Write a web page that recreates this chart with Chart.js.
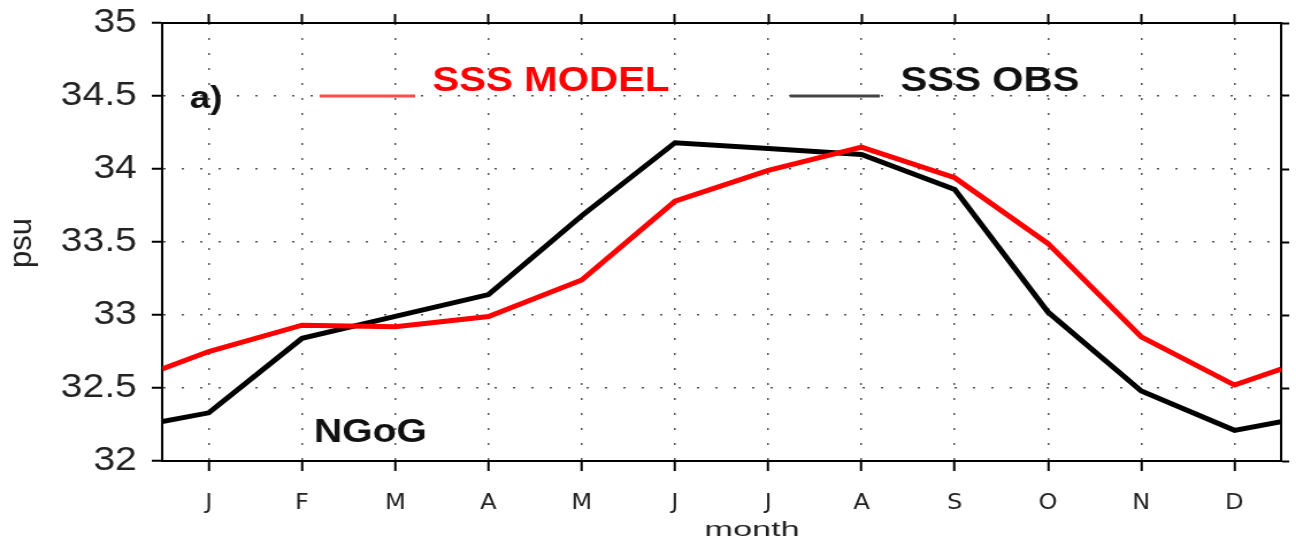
<!DOCTYPE html>
<html>
<head>
<meta charset="utf-8">
<script src="https://cdn.jsdelivr.net/npm/chart.js@4/dist/chart.umd.min.js"></script>
<style>
  html, body { margin: 0; padding: 0; background: #fff; overflow: hidden; }
  /* the source figure is stretched sideways, so draw narrow and scale */
  #wrap { width: 1127px; height: 542px; transform: scaleX(1.15); transform-origin: 0 0; }
</style>
</head>
<body>
<div id="wrap"><canvas id="myChart"></canvas></div>
<script>
// month letters on the x axis
const months = ['J', 'F', 'M', 'A', 'M', 'J', 'J', 'A', 'S', 'O', 'N', 'D'];
// monthly SSS (psu)
const sssModel = [32.75, 32.93, 32.92, 32.99, 33.24, 33.78, 33.99, 34.15, 33.94, 33.49, 32.85, 32.52];
const sssObs = [32.33, 32.84, 32.99, 33.14, 33.68, 34.18, 34.14, 34.10, 33.86, 33.02, 32.48, 32.21];
// value where each curve meets the left/right frame (half a month out)
const modelEdge = 32.63;
const obsEdge = 32.27;

function series(vals, edge) {
    let pts = [{x: -0.5, y: edge}];
    for (let i = 0; i < vals.length; i++) pts.push({x: i, y: vals[i]});
    pts.push({x: 11.5, y: edge});
    return pts;
}

const monthTicks = (scale) => { scale.ticks = months.map((m, i) => ({value: i})); };

const textPlugin = {
    id: 'texts',
    afterDraw(chart) {
        const ctx = chart.ctx;
        ctx.save();
        ctx.textBaseline = 'middle';
        // panel label and region name
        ctx.fillStyle = '#111';
        ctx.font = 'bold 32px "Liberation Sans", Arial, sans-serif';
        ctx.fillText('a)', 165, 99);
        ctx.font = 'bold 34px "Liberation Sans", Arial, sans-serif';
        ctx.fillText('NGoG', 273, 433);
        // legend
        ctx.lineWidth = 3;
        ctx.strokeStyle = '#ff4a4a';
        ctx.beginPath(); ctx.moveTo(278, 96); ctx.lineTo(361, 96); ctx.stroke();
        ctx.strokeStyle = '#444';
        ctx.beginPath(); ctx.moveTo(687, 96); ctx.lineTo(765, 96); ctx.stroke();
        ctx.font = 'bold 35px "Liberation Sans", Arial, sans-serif';
        ctx.fillStyle = '#ff0000';
        ctx.fillText('SSS MODEL', 376, 81);
        ctx.fillStyle = '#111';
        ctx.fillText('SSS OBS', 783, 81);
        ctx.restore();

        // axis titles
        ctx.save();
        ctx.fillStyle = '#222';
        ctx.textAlign = 'center';
        ctx.textBaseline = 'alphabetic';
        ctx.translate(654, 536);
        ctx.scale(1.42, 1);
        ctx.font = '21px "Liberation Sans", Arial, sans-serif';
        ctx.fillText('month', 0, 0);
        ctx.restore();

        ctx.save();
        ctx.fillStyle = '#222';
        ctx.textAlign = 'center';
        ctx.textBaseline = 'middle';
        ctx.translate(20, 243);
        ctx.scale(1 / 1.15, 1);
        ctx.rotate(-Math.PI / 2);
        ctx.font = '31px "Liberation Sans", Arial, sans-serif';
        ctx.fillText('psu', 0, 0);
        ctx.restore();
    }
};

var ctx = document.getElementById('myChart').getContext('2d');
var myChart = new Chart(ctx, {
    type: 'line',
    data: {
        datasets: [{
            label: 'SSS MODEL',
            data: series(sssModel, modelEdge),
            borderColor: '#ff0000',
            borderWidth: 5,
            pointRadius: 0,
            tension: 0,
            fill: false
        }, {
            label: 'SSS OBS',
            data: series(sssObs, obsEdge),
            borderColor: '#000000',
            borderWidth: 5,
            pointRadius: 0,
            tension: 0,
            fill: false
        }]
    },
    options: {
        responsive: true,
        maintainAspectRatio: false,
        animation: false,
        events: [],
        layout: {padding: 0},
        plugins: {legend: {display: false}, tooltip: {enabled: false}},
        scales: {
            x: {
                type: 'linear', position: 'bottom', min: -0.5, max: 11.5,
                afterBuildTicks: monthTicks,
                afterFit: (s) => { s.height = 81; },
                grid: {color: '#555', lineWidth: 1.5, tickColor: '#000', tickWidth: 2, tickLength: 10},
                border: {display: true, color: '#000', width: 2, dash: [2, 13]},
                ticks: {
                    padding: 20, color: '#222', maxRotation: 0, autoSkip: false,
                    font: {family: '"DejaVu Sans", sans-serif', size: 21},
                    callback: (v) => months[v]
                }
            },
            x2: {
                type: 'linear', position: 'top', min: -0.5, max: 11.5,
                afterBuildTicks: monthTicks,
                afterFit: (s) => { s.height = 23; },
                grid: {drawOnChartArea: false, tickColor: '#000', tickWidth: 2, tickLength: 9},
                border: {display: true, color: '#000', width: 2},
                ticks: {display: false}
            },
            y: {
                position: 'left', min: 32, max: 35,
                afterFit: (s) => { s.width = 141; s.paddingTop = 0; s.paddingBottom = 0; },
                grid: {color: '#555', lineWidth: 1.5, tickColor: '#000', tickWidth: 2, tickLength: 9},
                border: {display: true, color: '#000', width: 2, dash: [2, 14]},
                ticks: {
                    stepSize: 0.5, padding: 13, color: '#222',
                    font: {family: '"Liberation Sans", Arial, sans-serif', size: 34},
                    callback: (v) => String(v)
                }
            },
            y2: {
                position: 'right', min: 32, max: 35,
                afterFit: (s) => { s.width = 13; s.paddingTop = 0; s.paddingBottom = 0; },
                grid: {drawOnChartArea: false, tickColor: '#000', tickWidth: 2, tickLength: 7},
                border: {display: true, color: '#000', width: 2},
                ticks: {display: false, stepSize: 0.5}
            }
        }
    },
    plugins: [textPlugin]
});
</script>
</body>
</html>
